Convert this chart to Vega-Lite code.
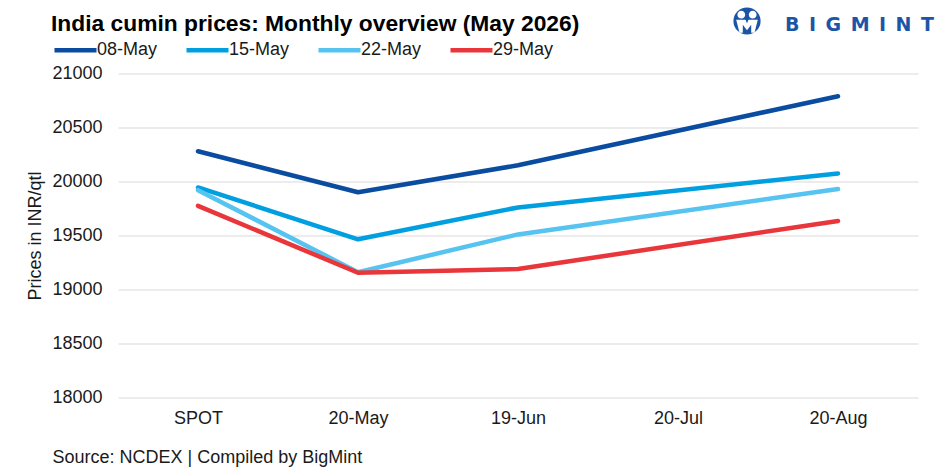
{
  "$schema": "https://vega.github.io/schema/vega-lite/v6.json",
  "width": 800,
  "height": 324,
  "autosize": {"type": "none"},
  "padding": {"left": 118, "top": 73.5, "right": 22, "bottom": 72.5},
  "background": "white",
  "config": {
    "font": "Liberation Sans",
    "view": {"stroke": null},
    "axis": {"labelColor": "#1a1a1a", "titleColor": "#1a1a1a"}
  },
  "title": {
    "text": "India cumin prices: Monthly overview (May 2026)",
    "anchor": "start",
    "frame": "group",
    "font": "Liberation Sans",
    "fontSize": 22.8,
    "fontWeight": "bold",
    "color": "#000000",
    "baseline": "alphabetic",
    "dx": -67,
    "offset": -46
  },
  "layer": [
    {
      "data": {
        "values": [
          {"date": "SPOT", "series": "08-May", "price": 20280},
          {"date": "20-May", "series": "08-May", "price": 19900},
          {"date": "19-Jun", "series": "08-May", "price": 20150},
          {"date": "20-Aug", "series": "08-May", "price": 20790},
          {"date": "SPOT", "series": "15-May", "price": 19945},
          {"date": "20-May", "series": "15-May", "price": 19465},
          {"date": "19-Jun", "series": "15-May", "price": 19760},
          {"date": "20-Aug", "series": "15-May", "price": 20075},
          {"date": "SPOT", "series": "22-May", "price": 19920},
          {"date": "20-May", "series": "22-May", "price": 19160},
          {"date": "19-Jun", "series": "22-May", "price": 19510},
          {"date": "20-Aug", "series": "22-May", "price": 19930},
          {"date": "SPOT", "series": "29-May", "price": 19775},
          {"date": "20-May", "series": "29-May", "price": 19155},
          {"date": "19-Jun", "series": "29-May", "price": 19190},
          {"date": "20-Aug", "series": "29-May", "price": 19635}
        ]
      },
      "mark": {"type": "line", "strokeWidth": 4.5, "strokeCap": "round", "strokeJoin": "round"},
      "encoding": {
        "x": {
          "field": "date",
          "type": "ordinal",
          "sort": ["SPOT", "20-May", "19-Jun", "20-Jul", "20-Aug"],
          "scale": {"type": "point", "padding": 0.5, "domain": ["SPOT", "20-May", "19-Jun", "20-Jul", "20-Aug"]},
          "axis": {
            "title": "Source: NCDEX | Compiled by BigMint",
            "titleFontSize": 18,
            "titleFontWeight": "normal",
            "titleAlign": "left",
            "titleAnchor": "start",
            "titleBaseline": "alphabetic",
            "titleX": -66,
            "titleY": 64.5,
            "labelFontSize": 18,
            "labelAngle": 0,
            "labelPadding": 12,
            "ticks": false,
            "domain": false,
            "grid": false
          }
        },
        "y": {
          "field": "price",
          "type": "quantitative",
          "scale": {"domain": [18000, 21000], "zero": false, "nice": false},
          "axis": {
            "title": "Prices in INR/qtl",
            "titleFontSize": 18,
            "titleFontWeight": "normal",
            "titleBaseline": "middle",
            "titleX": -83,
            "values": [18000, 18500, 19000, 19500, 20000, 20500, 21000],
            "format": "d",
            "labelFontSize": 18,
            "labelPadding": 16,
            "ticks": false,
            "domain": false,
            "grid": true,
            "gridColor": "#d9d9d9",
            "gridWidth": 1
          }
        },
        "color": {
          "field": "series",
          "type": "nominal",
          "scale": {
            "domain": ["08-May", "15-May", "22-May", "29-May"],
            "range": ["#0a4ca0", "#009fe0", "#56c3f1", "#e8363a"]
          },
          "legend": {
            "title": null,
            "orient": "none",
            "direction": "horizontal",
            "legendX": -66,
            "legendY": -47,
            "padding": 0,
            "symbolType": "stroke",
            "symbolSize": 1764,
            "symbolStrokeWidth": 4.5,
            "labelFontSize": 18,
            "labelColor": "#1a1a1a",
            "labelOffset": -2,
            "columnPadding": 19
          }
        }
      }
    },
    {
      "data": {"values": [{"logo": "BIGMINT"}]},
      "mark": {"type": "point", "shape": "circle", "size": 740, "filled": true, "opacity": 1, "color": "#1d55a6", "xOffset": -91, "yOffset": -52.5},
      "encoding": {
        "x": {"datum": "20-Aug", "type": "ordinal"},
        "y": {"datum": 21000, "type": "quantitative"}
      }
    },
    {
      "data": {"values": [{"logo": "BIGMINT"}]},
      "mark": {
        "type": "point",
        "shape": "M-0.64,-0.42 A0.26,0.26 0 1,0 -0.12,-0.42 A0.26,0.26 0 1,0 -0.64,-0.42 Z M0.12,-0.42 A0.26,0.26 0 1,0 0.64,-0.42 A0.26,0.26 0 1,0 0.12,-0.42 Z M-0.72,-0.08 L-0.1,-0.08 L0,0.15 L0.1,-0.08 L0.72,-0.08 L0.5,0.78 L0.28,0.78 L0.28,0.25 L0,0.62 L-0.28,0.25 L-0.28,0.78 L-0.5,0.78 Z",
        "size": 900,
        "filled": true,
        "opacity": 1,
        "color": "white",
        "xOffset": -91,
        "yOffset": -52.5
      },
      "encoding": {
        "x": {"datum": "20-Aug", "type": "ordinal"},
        "y": {"datum": 21000, "type": "quantitative"}
      }
    },
    {
      "data": {"values": [{"logo": "B\u2002I\u2002G\u2002M\u2002I\u2002N\u2002T"}]},
      "mark": {
        "type": "text",
        "font": "DejaVu Sans",
        "fontWeight": "bold",
        "fontSize": 19,
        "color": "#1d55a6",
        "align": "left",
        "baseline": "alphabetic",
        "dx": -53,
        "dy": -42.5
      },
      "encoding": {
        "x": {"datum": "20-Aug", "type": "ordinal"},
        "y": {"datum": 21000, "type": "quantitative"},
        "text": {"field": "logo"}
      }
    }
  ]
}
